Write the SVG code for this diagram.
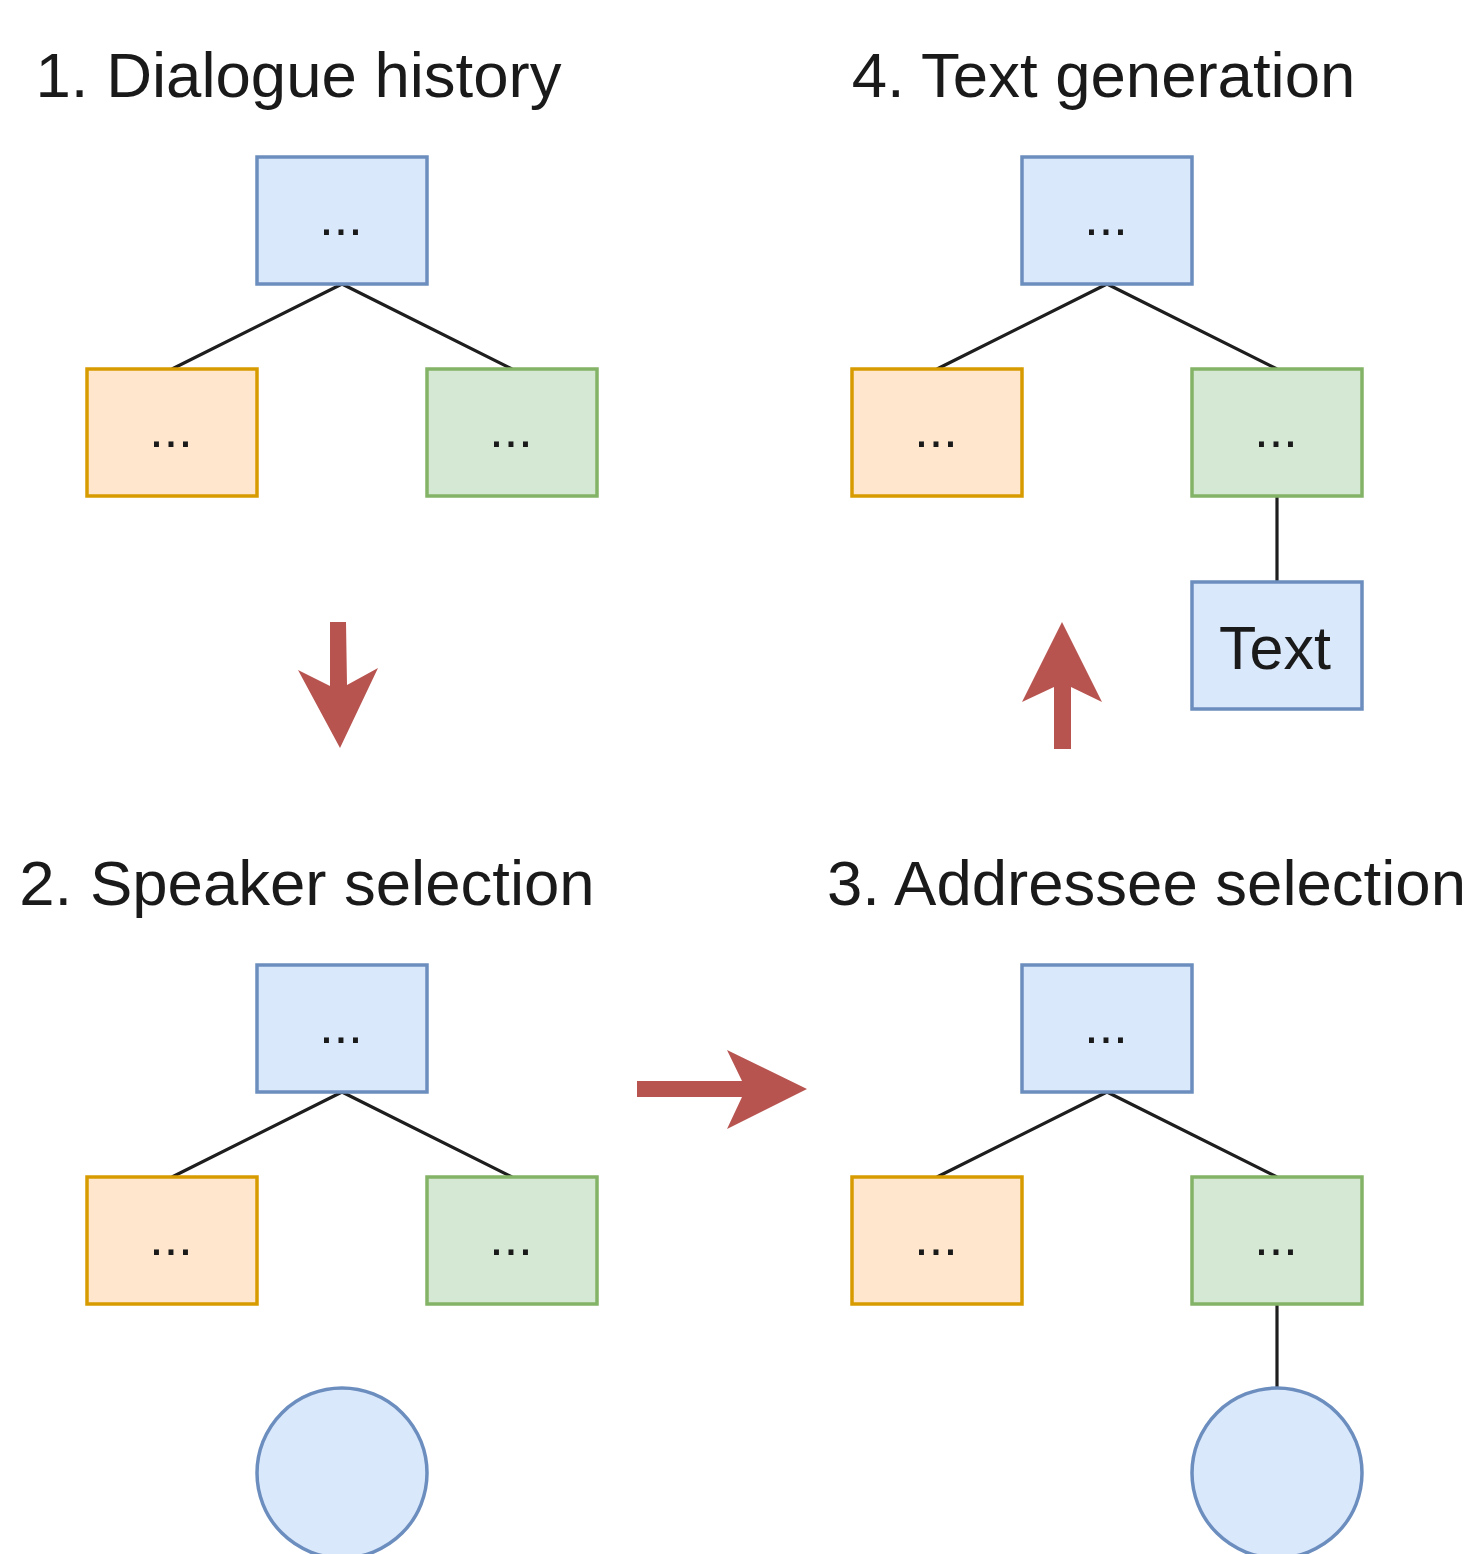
<svg xmlns="http://www.w3.org/2000/svg" width="1475" height="1554" viewBox="0 0 1475 1554">
<style>
.blue{fill:#dae8fc;stroke:#6c8ebf;stroke-width:3.5}
.orange{fill:#ffe6cc;stroke:#d79b00;stroke-width:3.5}
.green{fill:#d5e8d4;stroke:#82b366;stroke-width:3.5}
.edge{stroke:#1e1e1e;stroke-width:3.2;fill:none}
.arrow{fill:#b85450;stroke:none}
.title{font-family:"Liberation Sans",Arial,sans-serif;font-size:63.5px;fill:#1a1a1a;text-anchor:middle}
.dots{font-family:"Liberation Sans",Arial,sans-serif;font-size:52px;fill:#1a1a1a;text-anchor:middle}
.big{font-family:"Liberation Sans",Arial,sans-serif;font-size:61px;fill:#1a1a1a;text-anchor:middle}
</style>
<rect width="1475" height="1554" fill="#ffffff"/>
<g id="titles">
<text id="title1" class="title" x="298.5" y="97">1. Dialogue history</text>
<text id="title4" class="title" x="1103.5" y="97">4. Text generation</text>
<text id="title2" class="title" x="307" y="905">2. Speaker selection</text>
<text id="title3" class="title" x="1146.5" y="905">3. Addressee selection</text>
</g>
<g id="connectors">
<path class="edge" d="M342 284L172 369M342 284L512 369"/>
<path class="edge" d="M1107 284L937 369M1107 284L1277 369M1277 496L1277 582"/>
<path class="edge" d="M342 1092L172 1177M342 1092L512 1177"/>
<path class="edge" d="M1107 1092L937 1177M1107 1092L1277 1177M1277 1304L1277 1389"/>
<polygon class="arrow" points="330,622 346,622 347,685 378,668 340,748 298,670 330,686"/>
<polygon class="arrow" points="637,1081 742,1081 727,1050 807,1089 727,1129 742,1097 637,1097"/>
<polygon class="arrow" points="1054,749 1054,687 1022,702 1062,622 1102,702 1071,687 1071,749"/>
</g>
<g id="panel1">
<g id="p1-root"><rect class="blue" x="257" y="157" width="170" height="127"/><text class="dots" x="341" y="235">...</text></g>
<g id="p1-left"><rect class="orange" x="87" y="369" width="170" height="127"/><text class="dots" x="171" y="447">...</text></g>
<g id="p1-right"><rect class="green" x="427" y="369" width="170" height="127"/><text class="dots" x="511" y="447">...</text></g>
</g>
<g id="panel4">
<g id="p4-root"><rect class="blue" x="1022" y="157" width="170" height="127"/><text class="dots" x="1106" y="235">...</text></g>
<g id="p4-left"><rect class="orange" x="852" y="369" width="170" height="127"/><text class="dots" x="936" y="447">...</text></g>
<g id="p4-right"><rect class="green" x="1192" y="369" width="170" height="127"/><text class="dots" x="1276" y="447">...</text></g>
<g id="p4-text"><rect class="blue" x="1192" y="582" width="170" height="127"/><text class="big" x="1275" y="669">Text</text></g>
</g>
<g id="panel2">
<g id="p2-root"><rect class="blue" x="257" y="965" width="170" height="127"/><text class="dots" x="341" y="1043">...</text></g>
<g id="p2-left"><rect class="orange" x="87" y="1177" width="170" height="127"/><text class="dots" x="171" y="1255">...</text></g>
<g id="p2-right"><rect class="green" x="427" y="1177" width="170" height="127"/><text class="dots" x="511" y="1255">...</text></g>
<g id="p2-circle"><circle class="blue" cx="342" cy="1473" r="85"/></g>
</g>
<g id="panel3">
<g id="p3-root"><rect class="blue" x="1022" y="965" width="170" height="127"/><text class="dots" x="1106" y="1043">...</text></g>
<g id="p3-left"><rect class="orange" x="852" y="1177" width="170" height="127"/><text class="dots" x="936" y="1255">...</text></g>
<g id="p3-right"><rect class="green" x="1192" y="1177" width="170" height="127"/><text class="dots" x="1276" y="1255">...</text></g>
<g id="p3-circle"><circle class="blue" cx="1277" cy="1473" r="85"/></g>
</g>
</svg>
